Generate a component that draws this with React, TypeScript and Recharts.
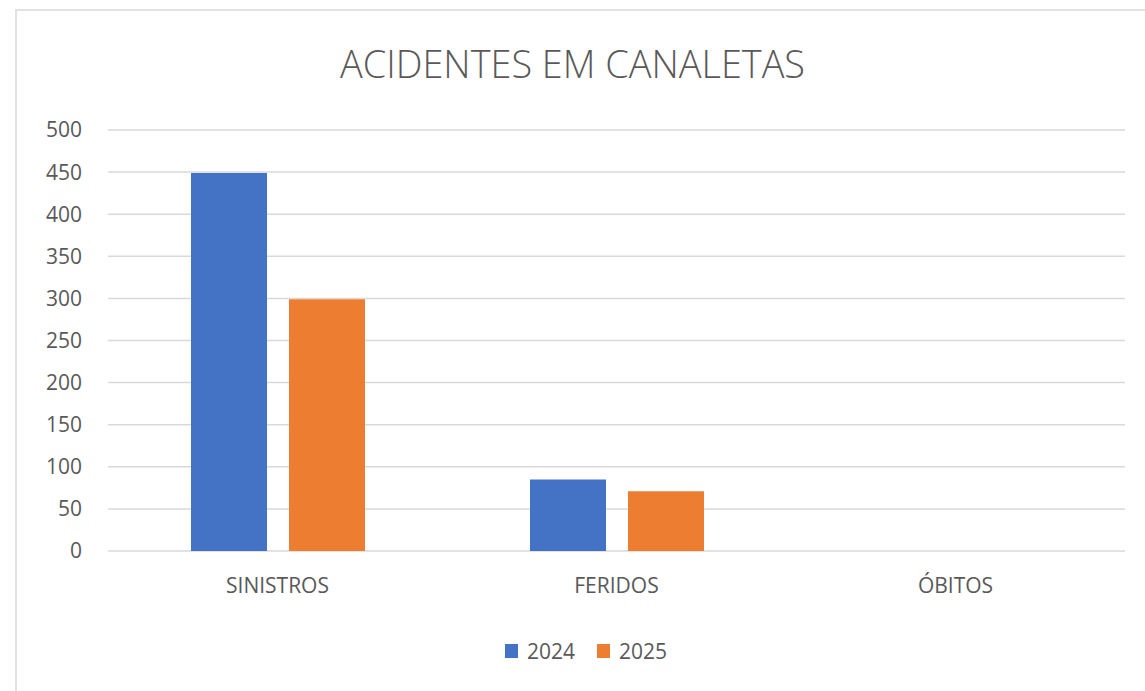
import React from "react";
import { BarChart, Bar, XAxis, YAxis, CartesianGrid } from "recharts";

const categories = ["SINISTROS", "FERIDOS", "ÓBITOS"];
const values2024 = [449, 85, 0];
const values2025 = [299, 71, 0];
const yTicks = [0, 50, 100, 150, 200, 250, 300, 350, 400, 450, 500];
const seriesNames = ["2024", "2025"];
const colors = ["#4472C4", "#ED7D31"];
const titleText = "ACIDENTES EM CANALETAS";

const data = categories.map((c, i) => ({
  name: c,
  "2024": values2024[i],
  "2025": values2025[i],
}));

const FONT = "'Open Sans', 'Noto Sans', sans-serif";
const TEXT = "#595959";

const LegendBlock = () => (
  <div
    style={{
      position: "absolute",
      left: 505,
      top: 637,
      display: "flex",
      alignItems: "center",
      fontFamily: FONT,
      fontSize: 21,
      color: TEXT,
      lineHeight: "28px",
    }}
  >
    {seriesNames.map((n, i) => (
      <div key={n} style={{ display: "flex", alignItems: "center", marginRight: i === 0 ? 22 : 0 }}>
        <div style={{ width: 13, height: 14, background: colors[i], marginRight: 9 }} />
        <span>{n}</span>
      </div>
    ))}
  </div>
);

export default function App() {
  return (
    <div style={{ position: "absolute", left: 0, top: 0, width: 1145, height: 691, background: "#fff", overflow: "hidden" }}>
      <div
        style={{
          position: "absolute",
          left: 15,
          top: 9,
          right: -4,
          bottom: -4,
          borderTop: "2px solid #e2e2e2",
          borderLeft: "2px solid #e2e2e2",
        }}
      />
      <svg style={{ position: "absolute", left: 0, top: 0 }} width={1145} height={120}>
        <text
          x={572.5}
          y={78}
          textAnchor="middle"
          fontFamily={FONT}
          fontWeight={300}
          fontSize={38}
          fill={TEXT}
          textLength={465}
          lengthAdjust="spacingAndGlyphs"
        >
          {titleText}
        </text>
      </svg>
      <div style={{ position: "absolute", left: 0, top: 0 }}>
        <BarChart
          width={1145}
          height={691}
          data={data}
          margin={{ top: 130, right: 20, bottom: 110, left: 0 }}
          barSize={76}
          barGap={22}
        >
          <CartesianGrid vertical={false} stroke="#d9d9d9" strokeWidth={1.5} />
          <XAxis
            dataKey="name"
            height={30}
            axisLine={false}
            tickLine={false}
            tickSize={0}
            tickMargin={27}
            tick={{ fill: TEXT, fontSize: 21, fontFamily: FONT }}
            interval={0}
          />
          <YAxis
            width={108}
            domain={[0, 500]}
            ticks={yTicks}
            axisLine={false}
            tickLine={false}
            tickSize={0}
            tickMargin={26}
            tick={{ fill: TEXT, fontSize: 21, fontFamily: FONT }}
            interval={0}
          />
          <Bar dataKey="2024" fill={colors[0]} isAnimationActive={false} />
          <Bar dataKey="2025" fill={colors[1]} isAnimationActive={false} />
        </BarChart>
      </div>
      <LegendBlock />
    </div>
  );
}
